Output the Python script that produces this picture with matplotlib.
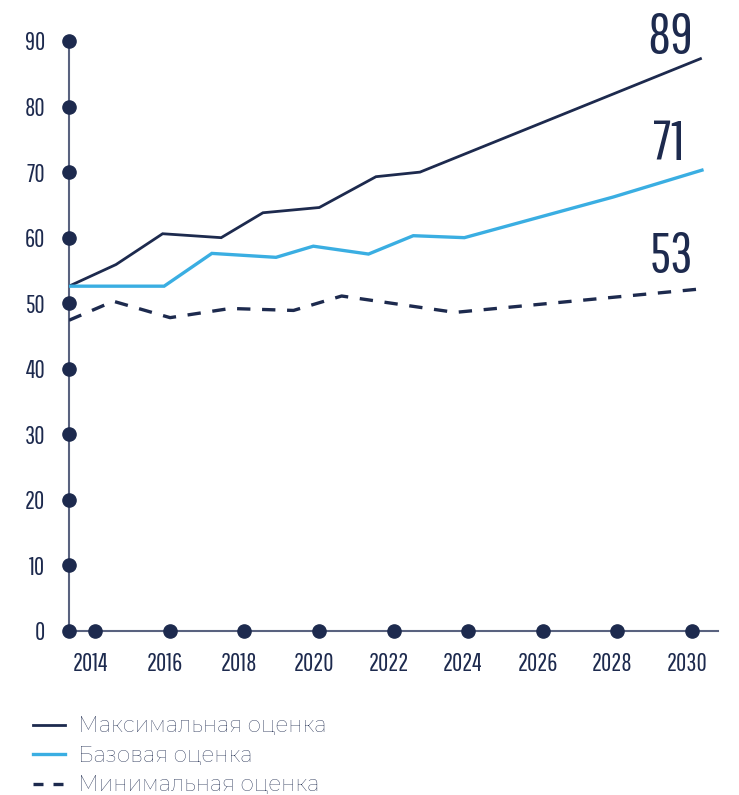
import matplotlib
matplotlib.use("Agg")
import matplotlib.pyplot as plt
import matplotlib.transforms as mtransforms
from matplotlib.lines import Line2D

# ---- data ----
years_ticks = [2014, 2016, 2018, 2020, 2022, 2024, 2026, 2028, 2030]
y_ticks = [0, 10, 20, 30, 40, 50, 60, 70, 80, 90]

max_x = [2013.3, 2014.56, 2015.81, 2017.38, 2018.50, 2020.01, 2021.53, 2022.71, 2030.23]
max_y = [52.6, 55.9, 60.6, 60.0, 63.8, 64.6, 69.3, 70.0, 87.3]

base_x = [2013.3, 2015.85, 2017.13, 2018.85, 2019.85, 2021.33, 2022.53, 2023.90, 2027.89, 2030.27]
base_y = [52.6, 52.6, 57.6, 57.0, 58.7, 57.5, 60.3, 60.0, 66.2, 70.3]

min_x = [2013.3, 2014.49, 2016.01, 2017.62, 2019.32, 2020.61, 2023.65, 2030.27]
min_y = [47.4, 50.3, 47.8, 49.2, 48.9, 51.1, 48.6, 52.2]

end_labels = ["89", "71", "53"]
series_names = ["Максимальная оценка", "Базовая оценка", "Минимальная оценка"]

NAVY = "#1d2a4e"
BLUE = "#3aaee2"
AXIS = "#59627f"

W, H = 739, 795
fig = plt.figure(figsize=(W / 100, H / 100), dpi=100)
left, right, top, bottom = 69, 718, 41, 631
ax = fig.add_axes([left / W, (H - bottom) / H, (right - left) / W, (bottom - top) / H])
x0, x1 = 2013.3, 2030.7
ax.set_xlim(x0, x1)
ax.set_ylim(0, 90)

for s in ["top", "right"]:
    ax.spines[s].set_visible(False)
for s in ["left", "bottom"]:
    ax.spines[s].set_color(AXIS)
    ax.spines[s].set_linewidth(1.5)

cond = ["Pathway Gothic One", "Barlow Condensed", "Oswald", "DejaVu Sans"]

ax.set_xticks(years_ticks)
ax.set_xticklabels([str(y) for y in years_ticks], family=cond, fontsize=18, color=NAVY)
ax.set_yticks(y_ticks)
ax.set_yticklabels([str(v) for v in y_ticks], family=cond, fontsize=18, color=NAVY)
ax.tick_params(axis="x", length=0, pad=15)
ax.tick_params(axis="y", length=0, pad=17)
offset = mtransforms.ScaledTranslation(-5 / 100, 0, fig.dpi_scale_trans)
for lbl in ax.get_xticklabels():
    lbl.set_transform(lbl.get_transform() + offset)

# lines
ax.plot(max_x, max_y, color=NAVY, lw=2.0, solid_joinstyle="miter", zorder=3)
ax.plot(base_x, base_y, color=BLUE, lw=2.4, solid_joinstyle="miter", zorder=3)
ax.plot(min_x, min_y, color=NAVY, lw=2.4, dashes=(4, 3.5), zorder=3)

# axis dots
ax.plot([x0] * len(y_ticks), y_ticks, "o", color=NAVY, ms=9.5, clip_on=False, zorder=5)
ax.plot(years_ticks, [0] * len(years_ticks), "o", color=NAVY, ms=9.5, clip_on=False, zorder=5)

# end labels
label_offsets = [(-22, 4), (-24, 7), (-22, 12)]
for xs, ys, lab, off in zip([max_x, base_x, min_x], [max_y, base_y, min_y], end_labels, label_offsets):
    ax.annotate(lab, xy=(xs[-1], ys[-1]), xytext=off, textcoords="offset points",
                ha="center", va="baseline", fontsize=40, family=cond,
                color=NAVY, annotation_clip=False)

# legend
handles = [Line2D([], [], color=NAVY, lw=2.0),
           Line2D([], [], color=BLUE, lw=2.4),
           Line2D([], [], color=NAVY, lw=2.4, dashes=(3, 3))]
leg = fig.legend(handles, series_names, loc="upper left",
                 bbox_to_anchor=(14 / W, 1 - 696 / H), frameon=False,
                 handlelength=1.45, handletextpad=0.6, labelspacing=0.39,
                 prop={"family": ["Montserrat", "Open Sans", "DejaVu Sans"],
                       "size": 15.5, "weight": 500})
for t in leg.get_texts():
    t.set_color(NAVY)

fig.savefig("out.png", dpi=100)
